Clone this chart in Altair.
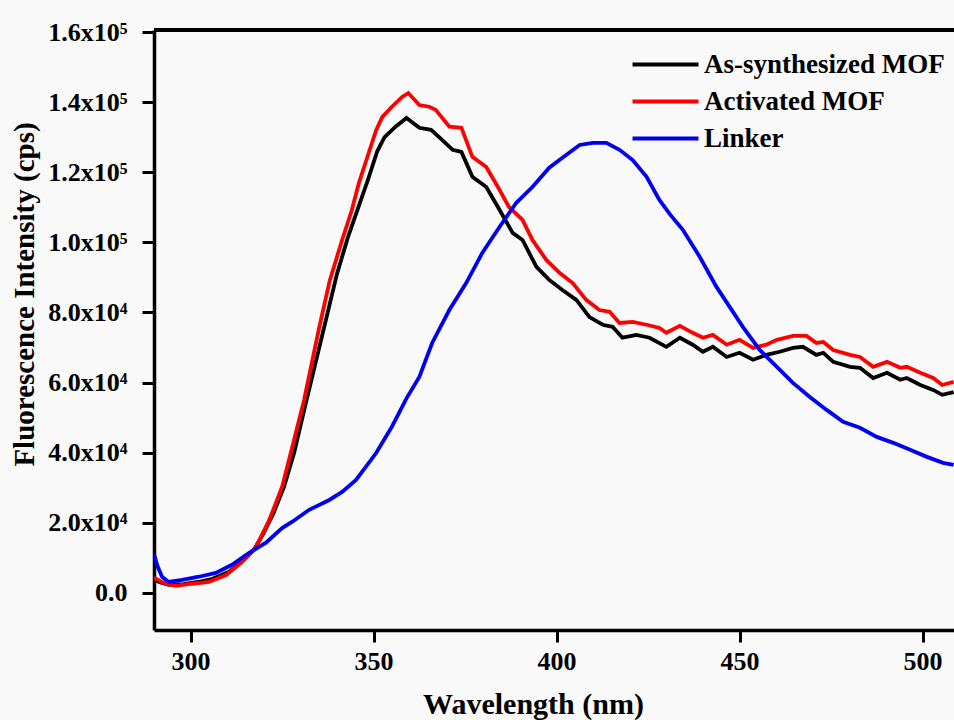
import altair as alt
import pandas as pd

series_names = ["As-synthesized MOF", "Activated MOF", "Linker"]
series_colors = ["#000000", "#ff0000", "#0000f0"]

black_nm = [290, 292, 294, 298, 302, 306, 310.5, 314.6, 317.3, 320, 322.8, 325.5, 328.3, 331, 334, 337,
            340, 343, 346, 348.5, 351, 353, 356, 359, 362.5, 365.7, 368.8, 371.6, 374, 377, 380.8, 384.4,
            388, 390.7, 394.5, 398, 401.6, 405.4, 409, 412.6, 415.3, 418, 421.8, 425.4, 430, 433.7, 437.2,
            440, 442.7, 446.5, 450, 453.7, 457.3, 461, 464.6, 467.3, 471, 472.9, 475.6, 480.2, 482.9, 486.5,
            490.3, 493.9, 495.7, 499.4, 502.9, 505.4, 508.5]
black_val = [3700, 2900, 2300, 2500, 3100, 4000, 6000, 9400, 12300, 17100, 23100, 30200, 40000, 52000, 65000, 78000,
             91000, 101500, 110500, 118000, 126000, 130000, 133000, 135500, 132700, 132100, 129200, 126400, 125800, 118700, 115800, 109300,
             102700, 100700, 93000, 89300, 86400, 83600, 78700, 76500, 75900, 72800, 73600, 72800, 70200, 72800, 70800,
             68800, 70200, 67300, 68500, 66500, 67900, 68800, 69900, 70200, 67900, 68500, 65900, 64500, 64200, 61300,
             62800, 60800, 61300, 59300, 57900, 56500, 57300]

red_nm = [290, 293, 296, 300.4, 305, 309.7, 314, 317.9, 321.5, 325, 327.8, 331, 335, 338, 341.4, 344, 346,
          348.5, 350.7, 352.4, 355, 357.8, 359.5, 362.5, 365.2, 367, 370.7, 374, 377, 380.8, 384.4, 387, 390.7,
          393.4, 397.2, 400.8, 404.4, 408.1, 411.7, 414.5, 417.2, 420.8, 424.6, 428.1, 430, 433.7, 437.2, 440,
          442.7, 446.5, 450, 453.7, 457.3, 460.2, 464.6, 468.3, 471, 472.9, 475.6, 480.2, 482.9, 486.5, 490.3,
          493.9, 495.7, 499.4, 502.9, 505.4, 508.5]
red_val = [4300, 2600, 2000, 2600, 3100, 5100, 8800, 13100, 20800, 30200, 41700, 55000, 75000, 89000, 100700, 109000, 117000,
           125000, 132000, 135800, 138700, 141500, 142600, 139200, 138700, 137800, 133000, 132700, 124400, 121500, 115000, 110100, 106400,
           100700, 95000, 91300, 88400, 83600, 80700, 80200, 77000, 77300, 76500, 75600, 74200, 76200, 74200, 72800,
           73600, 70800, 72200, 69900, 70800, 72200, 73300, 73300, 71300, 71600, 69300, 67900, 67300, 64500, 65900,
           64200, 64500, 62800, 61300, 59300, 60200]

blue_nm = [290, 291, 292.2, 294, 297.7, 302.3, 306.9, 311.3, 316, 320.6, 325, 327.8, 332.4, 337.9, 341.4, 345.2,
           350.7, 355, 359, 362.5, 366, 370.7, 375.3, 379.7, 384.4, 389, 393.4, 398, 402.7, 406.3, 409.9, 413.6,
           417.2, 420.8, 424.6, 428.1, 431, 434.5, 439.1, 443.7, 447.3, 450.9, 455.5, 460.2, 464.6, 469.2, 473.8,
           478.3, 482.9, 487.5, 492, 496.6, 501.2, 505.6, 508.5]
blue_val = [11000, 7500, 4600, 3100, 3700, 4600, 5700, 8000, 11400, 14300, 18500, 20300, 23700, 26500, 28800, 32200,
            39900, 47400, 55500, 61600, 71300, 80700, 88400, 97000, 104400, 111300, 115800, 121300, 125000, 127800, 128400, 128400,
            126400, 123500, 118700, 112100, 108000, 103600, 95900, 87300, 81600, 75900, 69300, 64500, 59900, 55900, 52200,
            48800, 47100, 44500, 42800, 40800, 38800, 37100, 36500]

x_ticks = [300, 350, 400, 450, 500]
y_ticks = [0, 20000, 40000, 60000, 80000, 100000, 120000, 140000, 160000]

frames = []
for name, nm, val in zip(series_names, [black_nm, red_nm, blue_nm], [black_val, red_val, blue_val]):
    frames.append(pd.DataFrame({"nm": nm, "val": val, "series": name, "idx": range(len(nm))}))
df = pd.concat(frames, ignore_index=True)

FONT = "Liberation Serif"

x_enc = alt.X("nm:Q", scale=alt.Scale(domain=[290, 508.6], nice=False, zero=False),
              axis=alt.Axis(values=x_ticks, title="Wavelength (nm)", grid=False,
                            labelFontSize=26, titleFontSize=30, labelPadding=6,
                            titleX=379, titleY=83, titleBaseline="alphabetic", titleAlign="center"))
y_enc = alt.Y("val:Q", scale=alt.Scale(domain=[-10600, 160600], nice=False, zero=False),
              axis=alt.Axis(values=y_ticks, title="Fluorescence Intensity (cps)", grid=False,
                            labelFontSize=26, titleFontSize=29, labelPadding=15,
                            labelExpr="datum.value == 0 ? '0.0' : (datum.value >= 100000 ? format(datum.value/100000, '.1f') + 'x10⁵' : format(datum.value/10000, '.1f') + 'x10⁴')",
                            titleX=-130, titleY=264, titleBaseline="middle", titleAlign="center"))
color_enc = alt.Color("series:N", scale=alt.Scale(domain=series_names, range=series_colors),
                      legend=alt.Legend(title=None, orient="none", legendX=498, legendY=21,
                                        symbolType="M-3,0H3", symbolSize=484, symbolStrokeWidth=4,
                                        labelFontSize=27, labelOffset=25, labelLimit=0,
                                        rowPadding=9, padding=0))

layers = []
for name in series_names:
    layers.append(
        alt.Chart(df).transform_filter(alt.datum.series == name)
        .mark_line(strokeWidth=3.8, clip=True)
        .encode(x=x_enc, y=y_enc, color=color_enc, order="idx:Q")
    )

top_rule = alt.Chart(df).mark_rule(color="black", strokeWidth=3.5).encode(
    x=alt.value(0), x2=alt.value(800), y=alt.value(0))

chart = alt.layer(*layers, top_rule).properties(
    width=800, height=600,
    autosize=alt.AutoSizeParams(type="none"),
    padding={"left": 154, "top": 30, "right": 0, "bottom": 90},
    background="#f9f9f9",
).configure_view(stroke=None).configure_axis(
    labelFont=FONT, titleFont=FONT, labelFontWeight="bold", titleFontWeight="bold",
    labelColor="black", titleColor="black", domainColor="black", tickColor="black",
    domainWidth=3.5, tickWidth=3, tickSize=12,
).configure_legend(labelFont=FONT, labelFontWeight="bold", labelColor="black")

chart.save("out.html", embed_options={"renderer": "svg", "actions": False})
